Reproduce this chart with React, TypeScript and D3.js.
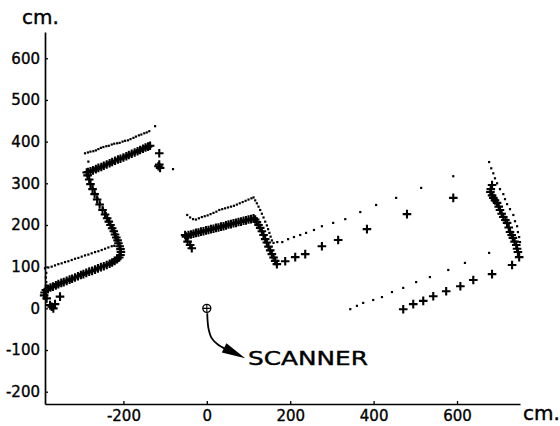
import React, { useEffect, useRef } from "react";
import * as d3 from "d3";

type Pt = [number, number];

const xTicks = [-200, 0, 200, 400, 600];
const yTicks = [-200, -100, 0, 100, 200, 300, 400, 500, 600];

// "+" readings, cm
const crossLeftWall: Pt[] = [
  [-390, 31], [-389, 38], [-386, 44], [-381, 47], [-375, 50], [-369, 52], [-362, 55], [-356, 58],
  [-349, 61], [-343, 63], [-336, 66], [-329, 69], [-323, 71], [-316, 74], [-309, 77], [-302, 80],
  [-296, 82], [-289, 85], [-282, 88], [-275, 90], [-268, 93], [-261, 96], [-254, 99], [-247, 101],
  [-240, 104], [-233, 107], [-227, 110], [-221, 114], [-215, 118], [-210, 122], [-207, 128],
  [-206, 135], [-207, 142], [-209, 149], [-212, 156], [-214, 163], [-217, 170], [-220, 177],
  [-223, 185], [-227, 192], [-231, 200], [-235, 208], [-239, 216], [-244, 225], [-250, 236],
  [-257, 249], [-263, 261], [-269, 274], [-274, 286], [-279, 298], [-282, 309], [-286, 319],
  [-288, 326], [-285, 327], [-279, 329], [-273, 331], [-266, 334], [-260, 337], [-253, 339],
  [-247, 342], [-240, 345], [-233, 348], [-227, 351], [-220, 354], [-213, 357], [-207, 359],
  [-200, 362], [-193, 365], [-187, 368], [-180, 371], [-173, 374], [-166, 377], [-160, 380],
  [-153, 383], [-147, 386], [-141, 388], [-136, 390],
];
const crossStray: Pt[] = [
  [-114, 372], [-116, 341], [-112, 337], [-114, 345],
  [-384, 24], [-376, 8], [-368, 0], [-364, 10], [-352, 28], [-372, 4],
];
const crossMidWall: Pt[] = [
  [-52, 176], [-46, 160], [-40, 152], [-36, 144], [-50, 172], [-44, 176], [-38, 177], [-32, 179],
  [-26, 181], [-20, 182], [-14, 184], [-8, 185], [-2, 187], [4, 188], [10, 190], [16, 191],
  [22, 193], [28, 194], [34, 196], [40, 197], [46, 199], [52, 201], [58, 202], [64, 204],
  [70, 205], [76, 207], [82, 208], [88, 210], [94, 211], [100, 213], [106, 214], [112, 216],
  [116, 213], [120, 207], [124, 200], [128, 193], [132, 185], [136, 176], [140, 166], [144, 158],
  [148, 148], [152, 139], [156, 130], [160, 122], [164, 114], [168, 106],
];
const crossFarUpper: Pt[] = [
  [188, 113], [212, 123], [236, 130], [276, 149], [315, 164], [384, 190], [480, 226], [591, 265],
];
const crossFarLower: Pt[] = [
  [471, -2], [495, 10], [519, 18], [543, 29], [574, 41], [608, 53], [639, 68], [684, 82], [732, 104],
];
const crossRightWall: Pt[] = [
  [684, 296], [681, 286], [680, 279], [684, 271], [687, 265], [691, 259], [696, 253], [700, 244],
  [703, 236], [707, 227], [711, 219], [716, 212], [720, 205], [724, 194], [727, 183], [731, 176],
  [734, 169], [738, 160], [742, 152], [744, 143], [746, 135], [749, 123],
];

// dot readings, cm
const dotLeftUpper: Pt[] = [
  [-292, 372], [-285, 374], [-279, 376], [-272, 377], [-266, 379], [-260, 382], [-254, 385],
  [-248, 387], [-241, 389], [-235, 390], [-228, 393], [-222, 395], [-215, 396], [-209, 397],
  [-202, 400], [-196, 402], [-189, 403], [-183, 406], [-176, 409], [-170, 412], [-163, 415],
  [-157, 417], [-150, 420], [-144, 422], [-138, 425], [-124, 437], [-284, 352], [-81, 334],
];
const dotLeftLower: Pt[] = [
  [-388, 96], [-380, 98], [-372, 100], [-364, 103], [-356, 106], [-348, 108], [-340, 111],
  [-332, 113], [-324, 116], [-316, 119], [-308, 121], [-300, 124], [-292, 127], [-284, 129],
  [-276, 132], [-268, 135], [-260, 137], [-252, 140], [-244, 143], [-236, 146], [-228, 149],
  [-222, 150], [-385, 85], [-386, 74], [-385, 63], [-386, 55],
  [-214, 170], [-220, 185], [-226, 198], [-234, 212], [-242, 228], [-249, 240], [-256, 252],
  [-262, 264], [-268, 276], [-274, 290], [-280, 305],
];
const dotMidWall: Pt[] = [
  [-47, 224], [-40, 218], [-33, 214], [-26, 213], [-19, 216], [-12, 219], [-5, 221], [2, 223],
  [9, 226], [16, 229], [23, 232], [30, 236], [37, 238], [44, 240], [51, 242], [58, 244],
  [65, 246], [72, 249], [79, 252], [86, 255], [93, 258], [100, 261], [107, 264], [112, 266],
  [116, 259], [120, 252], [124, 244], [128, 236], [132, 227], [136, 218], [140, 208], [144, 199],
  [147, 190], [150, 181], [153, 172], [156, 163], [160, 157],
];
const dotFarUpper: Pt[] = [
  [169, 159], [181, 159], [195, 166], [209, 171], [224, 176], [238, 181], [257, 188], [276, 197],
  [303, 205], [332, 214], [368, 231], [406, 248], [454, 265], [514, 289], [591, 317],
];
const dotFarLower: Pt[] = [
  [344, -2], [360, 6], [375, 13], [399, 20], [420, 27], [444, 39], [471, 49], [502, 63],
  [535, 75], [579, 92], [619, 109], [677, 133],
];
const dotRightWall: Pt[] = [
  [677, 351], [682, 336], [687, 324], [691, 312], [696, 300], [703, 286], [711, 274], [715, 262],
  [720, 250], [727, 238], [735, 224], [739, 209], [744, 197], [746, 183], [749, 171], [751, 159],
];

// scanner annotation, cm
const scanner: Pt = [0, 0];
const arrowShaft: Pt[] = [[1, -12], [4, -48], [12, -72], [28, -88], [42, -96]];
const arrowHead: Pt[] = [[36, -106], [47, -84], [92, -120]];

const FONT = "DejaVu Sans";

export default function App() {
  const ref = useRef<SVGSVGElement>(null);

  useEffect(() => {
    const svg = d3.select(ref.current);
    svg.selectAll("*").remove();

    const x = d3.scaleLinear().domain([-388, 751]).range([45, 520]);
    const y = d3.scaleLinear().domain([-229.5, 663]).range([404, 32]);

    const gx = svg
      .append("g")
      .attr("transform", "translate(0,404)")
      .call(
        d3.axisBottom(x).tickValues(xTicks).tickSizeInner(-3).tickSizeOuter(0)
          .tickPadding(6).tickFormat((d) => String(d))
      );
    const gy = svg
      .append("g")
      .attr("transform", "translate(45,0)")
      .call(
        d3.axisLeft(y).tickValues(yTicks).tickSizeInner(-3).tickSizeOuter(0)
          .tickPadding(5).tickFormat((d) => String(d))
      );
    [gx, gy].forEach((g) => {
      g.attr("font-family", FONT).attr("font-size", 15);
      g.select(".domain").attr("stroke-width", 1.7);
      g.selectAll(".tick line").attr("stroke-width", 1.3);
      g.selectAll("text").attr("stroke", "#000").attr("stroke-width", 0.35);
    });

    const label = (px: number, py: number, s: string) =>
      svg.append("text").attr("x", px).attr("y", py).attr("font-family", FONT)
        .attr("font-size", 20).attr("stroke", "#000").attr("stroke-width", 0.4).text(s);
    label(22, 24, "cm.");
    label(523, 420, "cm.");

    const dots = [
      ...dotLeftUpper, ...dotLeftLower, ...dotMidWall,
      ...dotFarUpper, ...dotFarLower, ...dotRightWall,
    ];
    svg.append("g").selectAll("rect").data(dots).enter().append("rect")
      .attr("x", (d) => x(d[0]) - 1.1).attr("y", (d) => y(d[1]) - 1.1)
      .attr("width", 2.2).attr("height", 2.2).attr("fill", "#000");

    const crosses = [
      ...crossLeftWall, ...crossStray, ...crossMidWall,
      ...crossFarUpper, ...crossFarLower, ...crossRightWall,
    ];
    svg.append("g").selectAll("path").data(crosses).enter().append("path")
      .attr("transform", (d) => `translate(${x(d[0])},${y(d[1])})`)
      .attr("d", "M-4.3,0H4.3M0,-4.3V4.3").attr("stroke", "#000").attr("stroke-width", 2.1);

    // scanner symbol and arrow
    const sx = x(scanner[0]);
    const sy = y(scanner[1]);
    svg.append("circle").attr("cx", sx).attr("cy", sy).attr("r", 4)
      .attr("fill", "none").attr("stroke", "#000").attr("stroke-width", 1.3);
    svg.append("path").attr("d", `M${sx - 4},${sy}H${sx + 4}M${sx},${sy - 4}V${sy + 4}`)
      .attr("stroke", "#000").attr("stroke-width", 1.1);

    const line = d3.line<Pt>().x((d) => x(d[0])).y((d) => y(d[1])).curve(d3.curveCatmullRom);
    svg.append("path").attr("d", line(arrowShaft)).attr("fill", "none")
      .attr("stroke", "#000").attr("stroke-width", 1.8);
    svg.append("path")
      .attr("d", "M" + arrowHead.map((d) => `${x(d[0])},${y(d[1])}`).join("L") + "Z")
      .attr("fill", "#000");

    svg.append("text").attr("x", 248).attr("y", 365).attr("font-family", FONT)
      .attr("font-size", 20).attr("textLength", 120).attr("lengthAdjust", "spacingAndGlyphs")
      .attr("stroke", "#000").attr("stroke-width", 0.4)
      .text("SCANNER");
  }, []);

  return (
    <svg
      ref={ref}
      width={560}
      height={426}
      style={{ position: "absolute", left: 0, top: 0, background: "#fff" }}
    />
  );
}
